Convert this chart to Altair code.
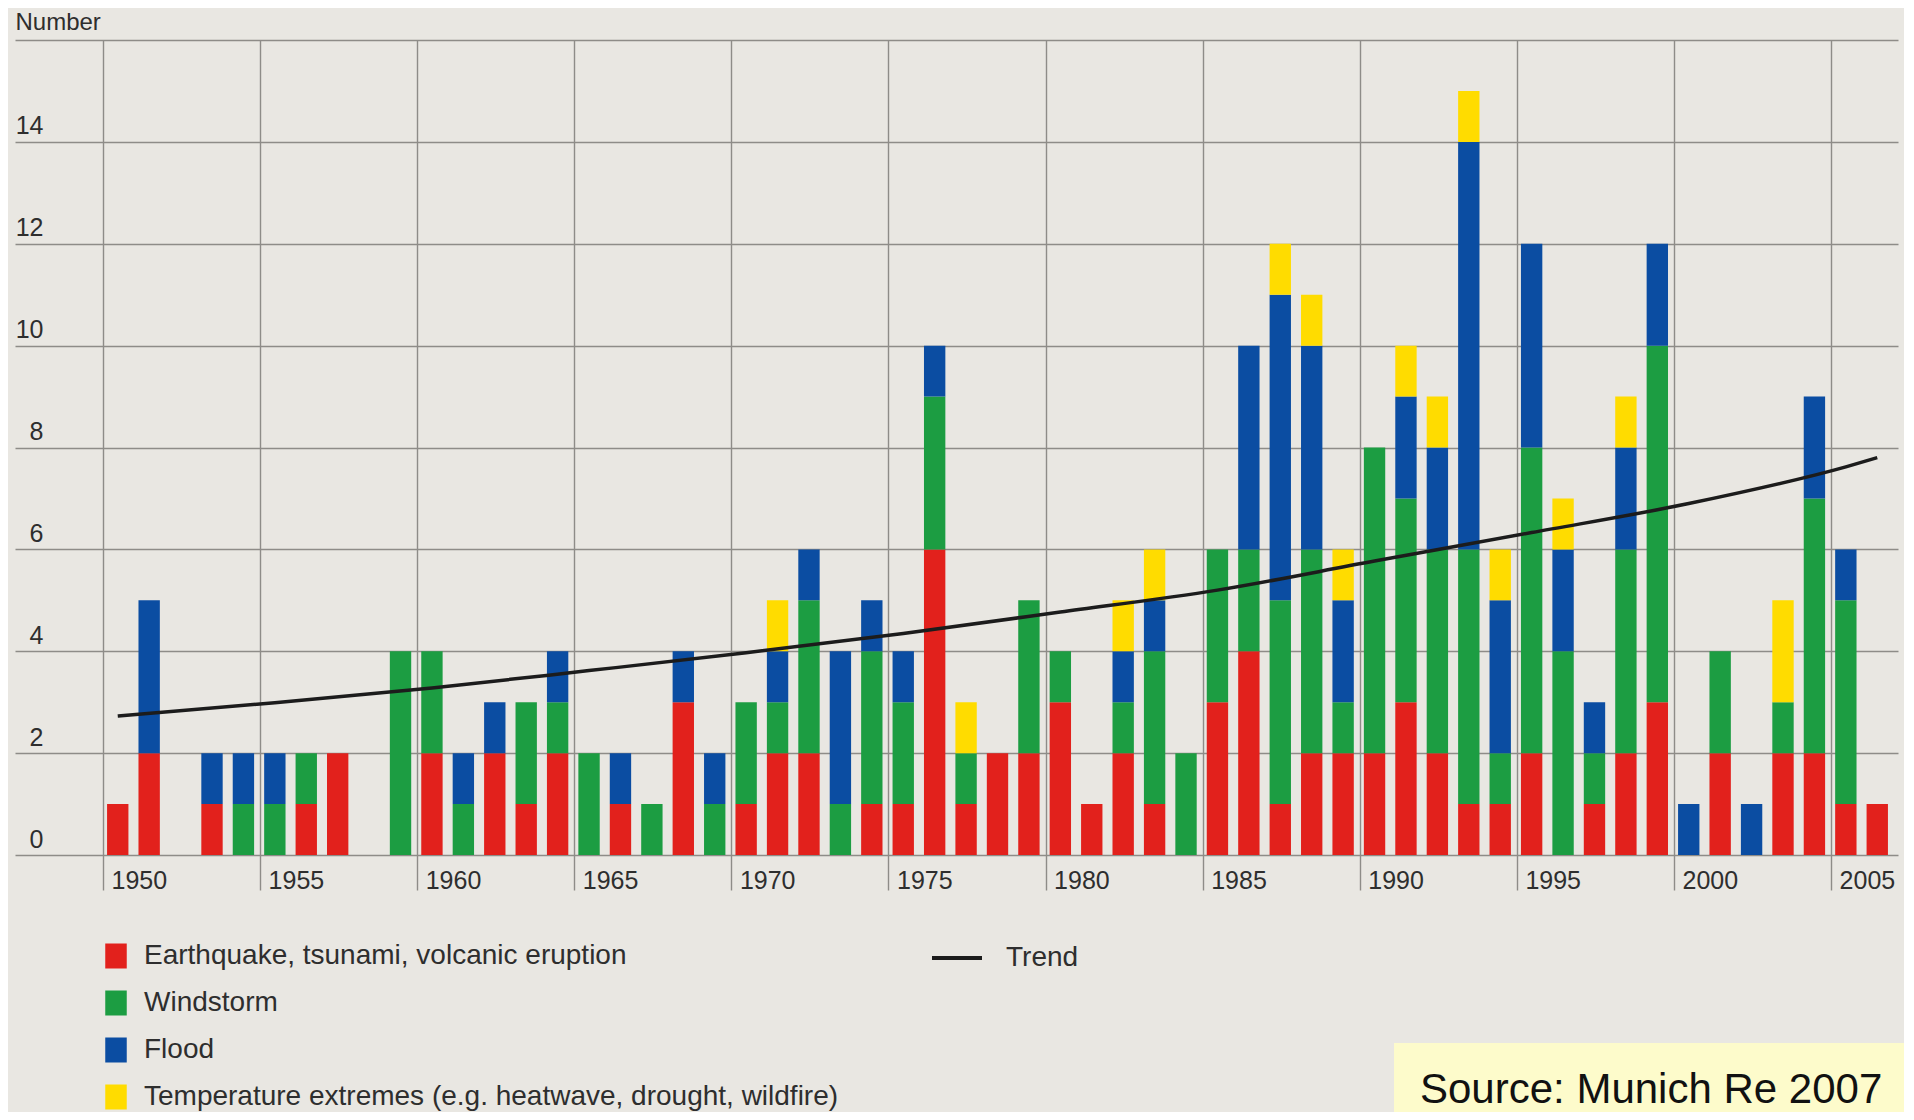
import altair as alt
import pandas as pd

# ---------------- data ----------------
years = list(range(1950, 2007))

earthquake = [1, 2, 0, 1, 0, 0, 1, 2, 0, 0,
              2, 0, 2, 1, 2, 0, 1, 0, 3, 0,
              1, 2, 2, 0, 1, 1, 6, 1, 2, 2,
              3, 1, 2, 1, 0, 3, 4, 1, 2, 2,
              2, 3, 2, 1, 1, 2, 0, 1, 2, 3,
              0, 2, 0, 2, 2, 1, 1]
windstorm = [0, 0, 0, 0, 1, 1, 1, 0, 0, 4,
             2, 1, 0, 2, 1, 2, 0, 1, 0, 1,
             2, 1, 3, 1, 3, 2, 3, 1, 0, 3,
             1, 0, 1, 3, 2, 3, 2, 4, 4, 1,
             6, 4, 4, 5, 1, 6, 4, 1, 4, 7,
             0, 2, 0, 1, 5, 4, 0]
flood = [0, 3, 0, 1, 1, 1, 0, 0, 0, 0,
         0, 1, 1, 0, 1, 0, 1, 0, 1, 1,
         0, 1, 1, 3, 1, 1, 1, 0, 0, 0,
         0, 0, 1, 1, 0, 0, 4, 6, 4, 2,
         0, 2, 2, 8, 3, 4, 2, 1, 2, 2,
         1, 0, 1, 0, 2, 1, 0]
temperature = [0, 0, 0, 0, 0, 0, 0, 0, 0, 0,
               0, 0, 0, 0, 0, 0, 0, 0, 0, 0,
               0, 1, 0, 0, 0, 0, 0, 1, 0, 0,
               0, 0, 1, 1, 0, 0, 0, 1, 1, 1,
               0, 1, 1, 1, 1, 0, 1, 0, 1, 0,
               0, 0, 0, 2, 0, 0, 0]

categories = ["Earthquake, tsunami, volcanic eruption",
              "Windstorm",
              "Flood",
              "Temperature extremes (e.g. heatwave, drought, wildfire)"]
colors = ["#e2211c", "#1c9d42", "#0b4da2", "#ffdc00"]

trend_years = [1950, 1955, 1960, 1965, 1970, 1975, 1980, 1985, 1990, 1995, 2000, 2005, 2006]
trend_values = [2.73, 2.99, 3.28, 3.62, 3.97, 4.35, 4.77, 5.2, 5.77, 6.33, 6.9, 7.62, 7.8]

x_ticks = [1950, 1955, 1960, 1965, 1970, 1975, 1980, 1985, 1990, 1995, 2000, 2005]
y_ticks = [0, 2, 4, 6, 8, 10, 12, 14, 16]

source_text = "Source: Munich Re 2007"

# ---------------- tables ----------------
series = [earthquake, windstorm, flood, temperature]
rows = []
for i, yr in enumerate(years):
    for k, cat in enumerate(categories):
        v = series[k][i]
        if v > 0:
            rows.append({"year": yr, "category": cat, "order": k, "count": v})
bars_df = pd.DataFrame(rows)
trend_df = pd.DataFrame({"year": trend_years, "value": trend_values, "series": "Trend"})
src_df = pd.DataFrame({"text": [source_text]})

W, H = 1883, 815
grid_color = "#8e8c88"
text_color = "#2e2e2e"
bg = "#e9e7e2"

x_scale = alt.Scale(domain=[1947.2, 2007.13], nice=False, zero=False)
y_scale = alt.Scale(domain=[0, 16], nice=False)

x_axis = alt.Axis(values=x_ticks, format="d", grid=True, gridColor=grid_color, gridWidth=1.4,
                  domain=False, ticks=True, tickSize=35, tickColor=grid_color, tickWidth=1.4,
                  labelAlign="left", labelBaseline="top", labelPadding=-22, labelOffset=8,
                  labelFlush=False, labelFontSize=25, labelColor=text_color, title=None)
y_axis = alt.Axis(values=y_ticks, grid=True, gridColor=grid_color, gridWidth=1.4,
                  domain=False, ticks=False, tickSize=0,
                  labelAlign="right", labelBaseline="bottom", labelPadding=-28, labelOffset=-3,
                  labelExpr="datum.value == 16 ? '' : datum.label",
                  labelFontSize=25, labelColor=text_color,
                  title="Number", titleAngle=0, titleAlign="left", titleBaseline="bottom",
                  titleX=0, titleY=-6, titleFontSize=24, titleFontWeight="normal",
                  titleColor=text_color)

bars = alt.Chart(bars_df).transform_stack(
    stack="count", groupby=["year"], as_=["y0", "y1"], sort=[alt.SortField("order")]
).transform_calculate(
    x0="datum.year + 0.13", x1="datum.year + 0.81"
).mark_bar().encode(
    x=alt.X("x0:Q", scale=x_scale, axis=x_axis),
    x2="x1:Q",
    y=alt.Y("y0:Q", scale=y_scale, axis=y_axis),
    y2="y1:Q",
    color=alt.Color("category:N",
                    scale=alt.Scale(domain=categories, range=colors),
                    legend=alt.Legend(title=None, orient="none", legendX=87, legendY=902,
                                      direction="vertical", padding=0,
                                      symbolType="M-0.86,-1H0.86V1H-0.86Z",
                                      symbolSize=625, symbolStrokeWidth=0,
                                      symbolOpacity=1, labelFontSize=28,
                                      labelColor=text_color, labelOffset=14,
                                      rowPadding=19, labelLimit=900)),
)

trend = alt.Chart(trend_df).transform_calculate(
    xc="datum.year + 0.47"
).mark_line(strokeWidth=3.5, interpolate="monotone").encode(
    x=alt.X("xc:Q", scale=x_scale),
    y=alt.Y("value:Q", scale=y_scale),
    stroke=alt.Stroke("series:N",
                      scale=alt.Scale(domain=["Trend"], range=["#1c1c1c"]),
                      legend=alt.Legend(title=None, orient="none", legendX=915, legendY=891,
                                        padding=0, symbolType="stroke", symbolSize=2500,
                                        symbolStrokeWidth=4, labelFontSize=28,
                                        labelColor=text_color, labelOffset=22)),
)

src_box = alt.Chart(src_df).mark_rect(color="#fdfbcb").encode(
    x=alt.value(1379), x2=alt.value(1900), y=alt.value(1003), y2=alt.value(1090)
)
src_text = alt.Chart(src_df).mark_text(
    align="left", baseline="middle", fontSize=42, font="Liberation Sans",
    color="#111111"
).encode(x=alt.value(1405), y=alt.value(1050), text="text:N")

chart = alt.layer(bars, trend, src_box, src_text).properties(
    width=W, height=H,
    autosize=alt.AutoSizeParams(type="none"),
    padding={"left": 7, "top": 32, "right": 6, "bottom": 257},
    background=bg,
).resolve_scale(color="independent").configure(
    font="Liberation Sans"
).configure_view(strokeWidth=0)

chart.save("out.html", embed_options={"renderer": "svg", "actions": False})
